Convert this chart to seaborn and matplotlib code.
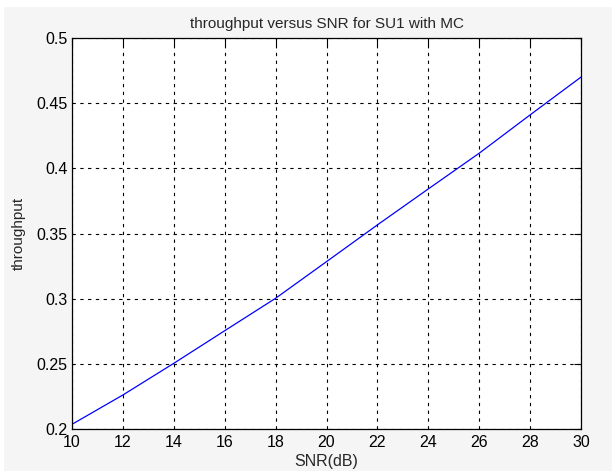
import matplotlib
matplotlib.use("Agg")
import matplotlib.pyplot as plt
from matplotlib.patches import Rectangle
from matplotlib.ticker import FormatStrFormatter
import pandas as pd
import seaborn as sns

# SNR sweep (dB) and measured throughput for SU1 with MC
snr_db = [10, 12, 14, 16, 18, 20, 22, 24, 26, 28, 30]
throughput = [0.2036, 0.2261, 0.2504, 0.2754, 0.3003, 0.3284,
              0.3566, 0.3842, 0.4116, 0.4410, 0.4700]
x_ticks = [10, 12, 14, 16, 18, 20, 22, 24, 26, 28, 30]
y_ticks = [0.2, 0.25, 0.3, 0.35, 0.4, 0.45, 0.5]

df = pd.DataFrame({"SNR(dB)": snr_db, "throughput": throughput})

sns.set_style("white")
plt.rcParams["font.family"] = ["Liberation Sans", "DejaVu Sans"]

fig = plt.figure(figsize=(6.12, 4.71), dpi=100, facecolor="white")
# grey window panel behind the axes
fig.patches.append(Rectangle((4 / 612, 0), 1, 1 - 7 / 471,
                             transform=fig.transFigure, facecolor="#f5f5f5",
                             edgecolor="none", zorder=-5))
ax = fig.add_axes([72 / 612, 1 - 429 / 471, (581 - 72) / 612, (429 - 38) / 471])
ax.set_facecolor("white")

sns.lineplot(data=df, x="SNR(dB)", y="throughput", ax=ax,
             color="#0000ff", linewidth=0.9)

ax.set_xlim(10, 30)
ax.set_ylim(0.2, 0.5)
ax.set_xticks(x_ticks)
ax.set_yticks(y_ticks)
ax.yaxis.set_major_formatter(FormatStrFormatter("%g"))

ax.grid(True, color="black", linestyle=(0, (3, 4)), linewidth=0.8)
ax.set_axisbelow(True)
for s in ax.spines.values():
    s.set_color("black")
    s.set_linewidth(0.9)

ax.tick_params(direction="in", length=5, width=0.8, colors="black",
               labelsize=11.5, top=True, right=True)
ax.tick_params(axis="x", pad=4)
ax.tick_params(axis="y", pad=3)
for lbl in ax.get_yticklabels():
    lbl.set_verticalalignment("center_baseline")

ax.set_title("throughput versus SNR for SU1 with MC", fontsize=11, pad=7)
ax.set_xlabel("SNR(dB)", fontsize=11.5, labelpad=3)
ax.set_ylabel("throughput", fontsize=11, labelpad=8)

fig.savefig("out.png", dpi=100, facecolor=fig.get_facecolor())
